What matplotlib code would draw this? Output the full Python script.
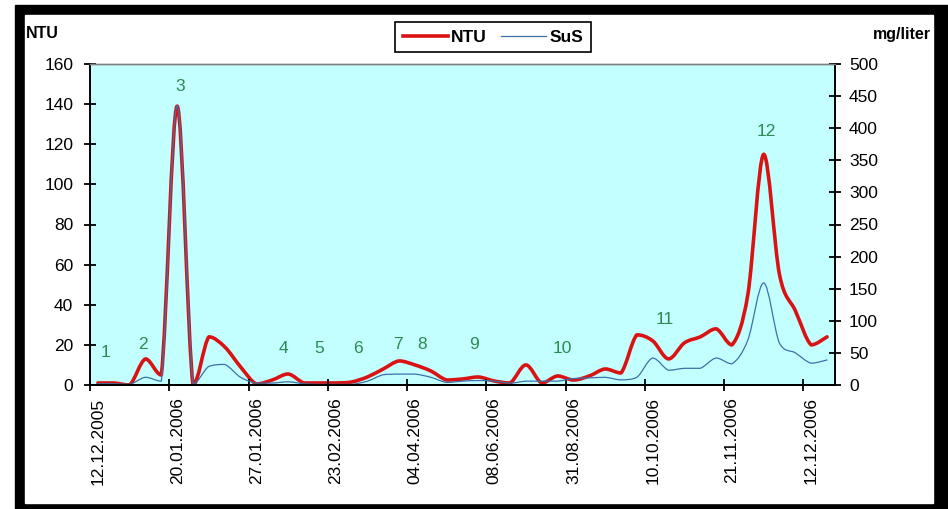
import numpy as np
import matplotlib
matplotlib.use('Agg')
import matplotlib.pyplot as plt
from matplotlib.patches import Rectangle, PathPatch
from matplotlib.path import Path
from matplotlib.lines import Line2D

plt.rcParams['font.family'] = ['Liberation Sans', 'DejaVu Sans']

# Data (one point per sampling category)
ntu = [1, 1, 0, 13, 5, 139, 0, 24, 19, 9, 0.5, 2.5, 5.5, 1, 1, 1, 1.5, 4, 8, 12,
       10, 7, 2.5, 3, 4, 2, 1, 10, 1, 4.5, 2.5, 4.5, 8, 6, 25, 22, 13, 21, 24, 28,
       20, 45, 115, 55, 37, 20, 24]
sus = [2, 2, 1, 12, 6, 435, 2, 29, 32, 12, 3, 3, 5, 2, 1, 1, 1, 6, 16, 17,
       17, 12, 4, 6, 7, 6, 3, 6, 6, 6, 10, 11, 12, 8, 12, 42, 23, 26, 26, 42,
       33, 70, 159, 65, 50, 34, 39]
date_labels = ['12.12.2005', '20.01.2006', '27.01.2006', '23.02.2006', '04.04.2006',
               '08.06.2006', '31.08.2006', '10.10.2006', '21.11.2006', '12.12.2006']
label_step = 5

# Event numbers and where they sit (category index, NTU)
event_ids = ['1', '2', '3', '4', '5', '6', '7', '8', '9', '10', '11', '12']
event_x = [0.45, 2.84, 5.18, 11.68, 13.95, 16.41, 18.93, 20.45, 23.73, 29.28, 35.78, 42.15]
event_y = [16, 20, 148.6, 18, 18, 18, 20, 20, 20, 18, 32.4, 126.6]

RED = '#D91313'
BLUE = '#3A72A8'


def smooth_line(ax, xs, ys, **kw):
    # smoothed line: cubic Bezier segments through every point,
    # control points kept inside each segment's y range (no overshoot)
    p = np.column_stack([xs, ys]).astype(float)
    ext = np.vstack([p[0], p, p[-1]])
    verts = [p[0]]
    codes = [Path.MOVETO]
    for i in range(len(p) - 1):
        a, b = p[i], p[i + 1]
        lo, hi = min(a[1], b[1]), max(a[1], b[1])
        c1 = ext[i + 1] + (ext[i + 2] - ext[i]) / 6
        c2 = ext[i + 2] - (ext[i + 3] - ext[i + 1]) / 6
        c1[1] = np.clip(c1[1], lo, hi)
        c2[1] = np.clip(c2[1], lo, hi)
        verts += [c1, c2, b]
        codes += [Path.CURVE4] * 3
    patch = PathPatch(Path(verts, codes), fill=False, capstyle='round',
                      joinstyle='round', **kw)
    ax.add_patch(patch)
    return patch


W, H = 948, 509
fig = plt.figure(figsize=(W / 100, H / 100), dpi=100)
fig.patch.set_facecolor('white')

# black picture frame
fig.patches.append(Rectangle((15 / W, 0), 1 - 15 / W, (H - 5) / H,
                             transform=fig.transFigure, color='black', zorder=-3))
fig.patches.append(Rectangle((25 / W, 6 / H), (933 - 25) / W, (503 - 15) / H,
                             transform=fig.transFigure, color='white', zorder=-2))

ax = fig.add_axes([90 / W, 124 / H, (835 - 90) / W, 321 / H])
ax.set_facecolor('#C4FFFF')
ax2 = ax.twinx()

x = np.arange(len(ntu))
smooth_line(ax, x, ntu, edgecolor=RED, lw=2.6)
smooth_line(ax2, x, sus, edgecolor=BLUE, lw=0.9)

ax.set_xlim(-0.5, len(ntu) - 0.5)
ax.set_ylim(0, 160)
ax2.set_ylim(0, 500)
ax.set_yticks(range(0, 161, 20))
ax2.set_yticks(range(0, 501, 50))

# category axis: tick marks between categories, labels on categories
ax.set_xticks(np.arange(-0.5, len(ntu), label_step))
ax.set_xticklabels([])
ax.set_xticks(np.arange(0, len(ntu), label_step), minor=True)
ax.set_xticklabels(date_labels, minor=True, rotation=90, fontsize=12.5)
ax.tick_params(axis='x', which='minor', length=0, pad=9)
ax.tick_params(axis='x', which='major', direction='inout', length=8, width=1.3)
ax.tick_params(axis='y', direction='inout', length=8, width=1.3, labelsize=12.5, pad=8)
ax2.tick_params(axis='y', direction='inout', length=8, width=1.3, labelsize=12.5, pad=6)

for a in (ax, ax2):
    for s in ('left', 'right', 'bottom'):
        a.spines[s].set_linewidth(1.4)
        a.spines[s].set_color('black')
    a.spines['top'].set_color('#808080')
    a.spines['top'].set_linewidth(1.0)
ax.spines['right'].set_visible(False)
ax2.spines['left'].set_visible(False)

for t, ex, ey in zip(event_ids, event_x, event_y):
    ax.text(ex, ey, t, color='#2A8A50', fontsize=12.5, ha='center', va='center')

fig.text(26 / W, 1 - 33 / H, 'NTU', fontsize=11.5, fontweight='bold', ha='left', va='center')
fig.text(931 / W, 1 - 34 / H, 'mg/liter', fontsize=11.5, fontweight='bold', ha='right', va='center')

handles = [Line2D([], [], color=RED, lw=2.6), Line2D([], [], color=BLUE, lw=0.9)]
leg = fig.legend(handles=handles, labels=['NTU', 'SuS'], loc='center',
                 bbox_to_anchor=(493 / W, 1 - 37 / H),
                 ncol=2, frameon=True, fancybox=False, framealpha=1,
                 edgecolor='black', handlelength=2.6, handletextpad=0.2,
                 columnspacing=0.8, borderpad=0.45,
                 prop={'weight': 'bold', 'size': 12.5})
leg.get_frame().set_linewidth(1.2)

fig.savefig('out.png', dpi=100)
